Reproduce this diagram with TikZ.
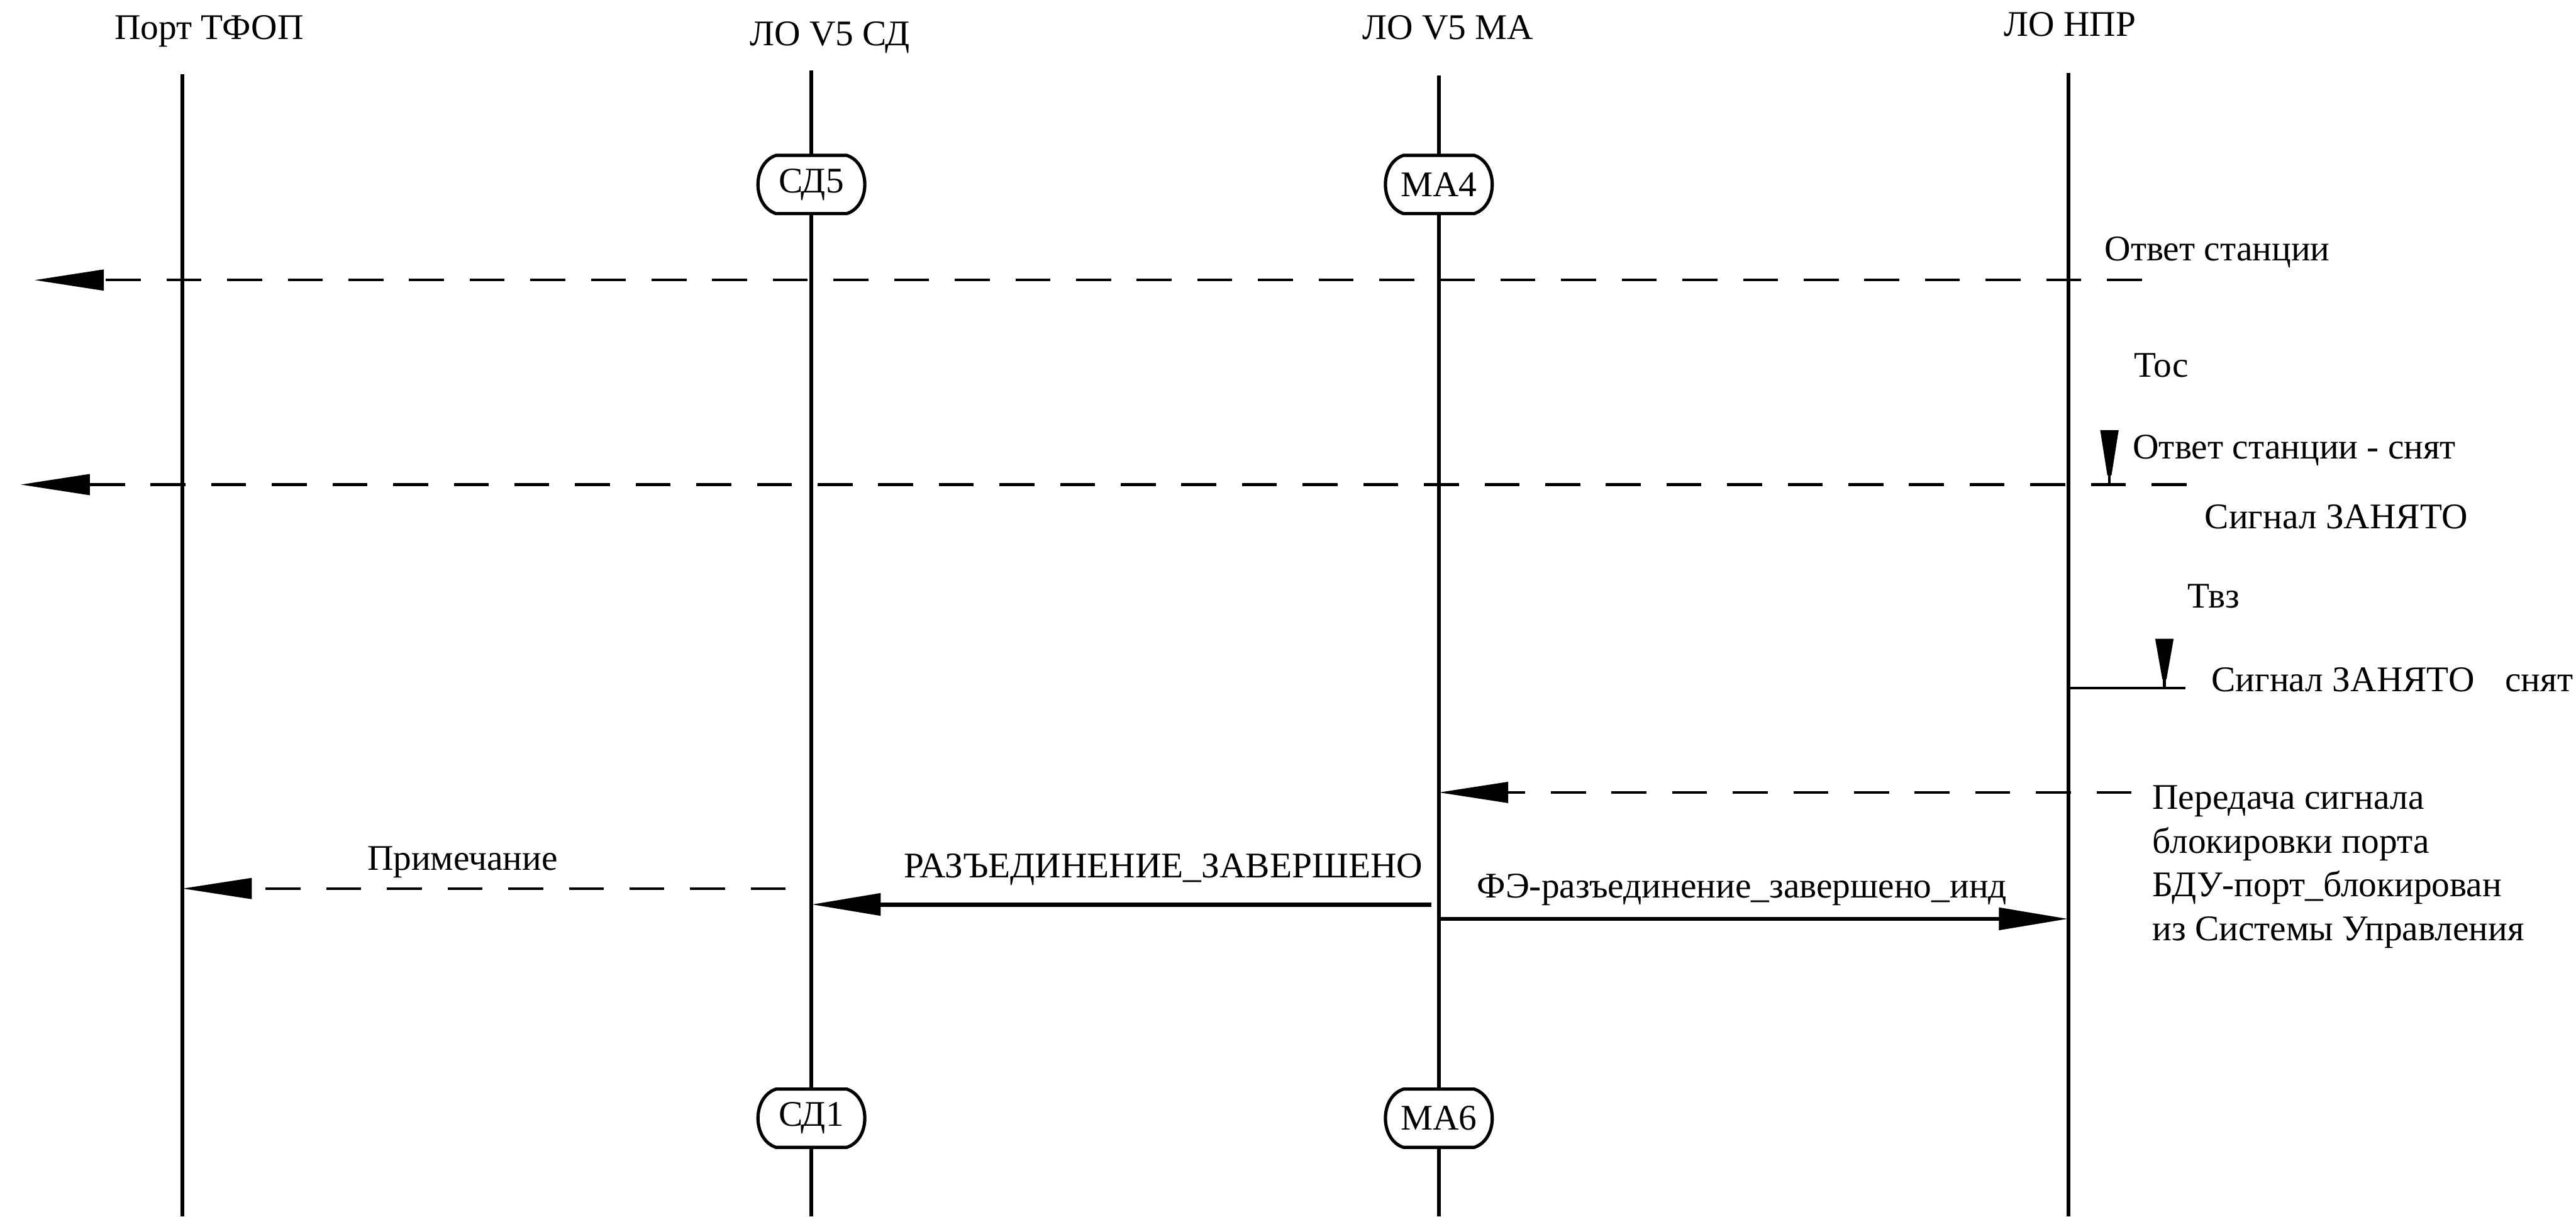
\documentclass[tikz,border=0pt]{standalone}
\usepackage{fontspec}
\setmainfont{Liberation Serif}
\usepackage{tikz}
\usetikzlibrary{arrows.meta}

% 状态框：上下平，两侧外凸
\newcommand{\barrel}[1]{%
    \filldraw[fill=white, line width=1.8pt] (#1.north west) -- (#1.north east)
        .. controls +(0.47,-0.15) and +(0.47,0.15) .. (#1.south east) -- (#1.south west)
        .. controls +(-0.47,0.15) and +(-0.47,-0.15) .. (#1.north west) -- cycle;}

\begin{document}
\begin{tikzpicture}[
    txt/.style={inner sep=0pt, font=\fontsize{20}{24.2}\selectfont},
    life/.style={line width=2.2pt},
    state/.style={minimum width=1.36cm, minimum height=1.12cm, inner sep=0pt,
        font=\fontsize{20}{24}\selectfont},
    msg/.style={line width=2.4pt, -{Triangle[length=1.35cm,width=0.42cm]}},
    dmsg/.style={line width=1.5pt, dash pattern=on 0.68cm off 0.5cm,
        -{Triangle[length=1.35cm,width=0.4cm]}},
    timer/.style={line width=1.6pt}]
    \useasboundingbox (0,0) rectangle (50.13,-23.67);

% 标题
    \node[txt, anchor=base] (hTF) at (4.07,-0.76) {Порт ТФОП};
    \node[txt, anchor=base] (hSD) at (16.15,-0.89) {ЛО V5 СД};
    \node[txt, anchor=base] (hMA) at (28.18,-0.77) {ЛО V5 МА};
    \node[txt, anchor=base] (hNP) at (40.28,-0.70) {ЛО НПР};

% 生命线端点
    \coordinate (tf) at (3.55,-1.45);  \coordinate (tfB) at (3.55,-23.67);
    \coordinate (sd) at (15.79,-1.37); \coordinate (sdB) at (15.79,-23.67);
    \coordinate (ma) at (28.00,-1.47); \coordinate (maB) at (28.00,-23.67);
    \coordinate (np) at (40.25,-1.42); \coordinate (npB) at (40.25,-23.67);

% 状态
    \node[state] (sd5) at (15.79,-3.59) {};
    \node[state] (ma4) at (28.00,-3.59) {};
    \node[state] (sd1) at (15.79,-21.76) {};
    \node[state] (ma6) at (28.00,-21.76) {};

% 生命线
    \draw[life] (tf) -- (tfB);
    \draw[life] (sd) -- (sd5) (sd5) -- (sd1) (sd1) -- (sdB);
    \draw[life] (ma) -- (ma4) (ma4) -- (ma6) (ma6) -- (maB);
    \draw[life] (np) -- (npB);

    \barrel{sd5} \barrel{ma4} \barrel{sd1} \barrel{ma6}
    \node[state] at (sd5) {СД5};
    \node[state] at (ma4) {МА4};
    \node[state] at (sd1) {СД1};
    \node[state] at (ma6) {МА6};

% 应答信号
    \coordinate (m1s) at (41.68,-5.45);
    \coordinate (m1e) at (0.67,-5.45);
    \draw[dmsg] (m1s) -- (m1e);
    \node[txt, anchor=base west] (l1) at (40.95,-5.07) {Ответ станции};

% 定时器 Тос
    \node[txt, anchor=base west] (t1) at (41.53,-7.34) {Тос};
    \coordinate (t1top) at (41.05,-8.37);
    \coordinate (t1bot) at (41.05,-9.43);
    \fill (41.05-0.18,-8.37) -- (41.05+0.18,-8.37) -- (41.05+0.04,-9.25) -- (41.05-0.04,-9.25) -- cycle;
    \draw[timer] (t1top) -- (t1bot);
    \node[txt, anchor=base west] (l2) at (41.50,-8.93) {Ответ станции - снят};

    \coordinate (m2s) at (42.55,-9.43);
    \coordinate (m2e) at (0.40,-9.43);
    \draw[dmsg] (m2s) -- (m2e);
    \node[txt, anchor=base west] (l3) at (42.90,-10.29) {Сигнал ЗАНЯТО};

% 定时器 Твз
    \node[txt, anchor=base west] (t2) at (42.57,-11.83) {Твз};
    \coordinate (t2top) at (42.12,-12.43);
    \coordinate (t2bot) at (42.12,-13.39);
    \coordinate (t2end) at (42.53,-13.39);
    \fill (42.12-0.18,-12.43) -- (42.12+0.18,-12.43) -- (42.12+0.04,-13.22) -- (42.12-0.04,-13.22) -- cycle;
    \draw[timer] (t2top) -- (t2bot);
    \draw[timer] (t2end -| np) -- (t2end);
    \node[txt, anchor=base west] (l4) at (43.03,-13.46) {Сигнал ЗАНЯТО\hspace{0.6em} снят};

% 端口阻塞
    \coordinate (m3s) at (41.48,-15.42);
    \draw[dmsg] (m3s) -- (m3s -| ma);
    \node[txt, anchor=north west, align=left] (l5) at (41.88,-15.28)
        {Передача сигнала\\блокировки порта\\БДУ-порт\_блокирован\\из Системы Управления};

% 拆线完成
    \coordinate (m4s) at (15.29,-17.29);
    \draw[dmsg] (m4s) -- (m4s -| tf);
    \node[txt, anchor=base] (l6) at (9.00,-16.93) {Примечание};

    \coordinate (m5s) at (27.85,-17.60);
    \draw[msg] (m5s) -- (m5s -| sd);
    \node[txt, anchor=base] (l7) at (22.64,-17.08) {РАЗЪЕДИНЕНИЕ\_ЗАВЕРШЕНО};

    \coordinate (m6s) at (28.00,-17.88);
    \draw[msg] (m6s) -- (m6s -| np);
    \node[txt, anchor=base] (l8) at (33.90,-17.47) {ФЭ-разъединение\_завершено\_инд};
\end{tikzpicture}
\end{document}
